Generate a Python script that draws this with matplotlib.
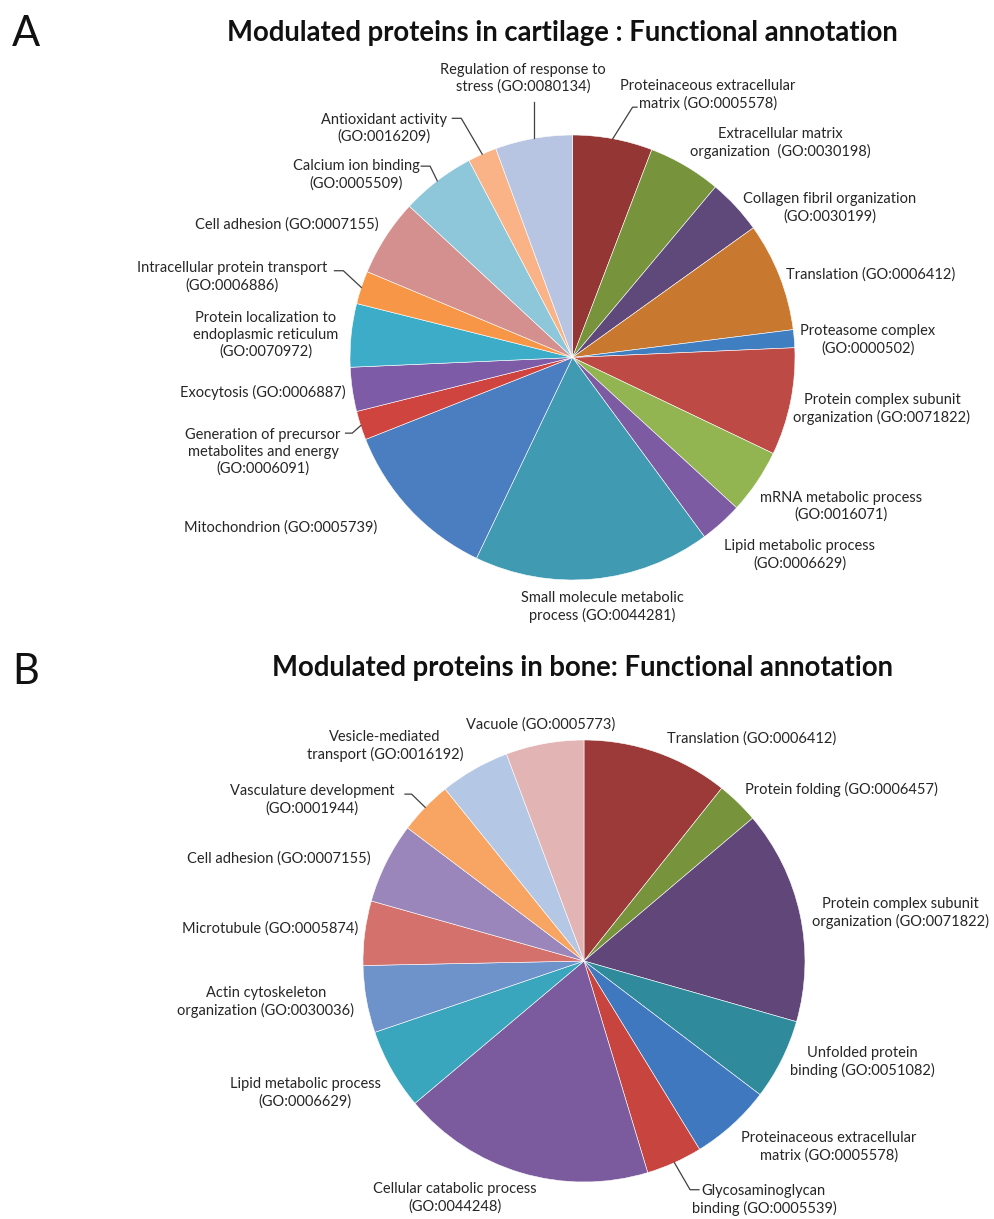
import numpy as np
import matplotlib
matplotlib.use('Agg')
import matplotlib.pyplot as plt

plt.rcParams['font.family'] = ['Lato', 'DejaVu Sans']

# cartilage (panel A), share of modulated proteins per GO term (%)
cart_labels = [
    'Proteinaceous extracellular\nmatrix (GO:0005578)',
    'Extracellular matrix\norganization  (GO:0030198)',
    'Collagen fibril organization\n(GO:0030199)',
    'Translation (GO:0006412)',
    'Proteasome complex\n(GO:0000502)',
    'Protein complex subunit\norganization (GO:0071822)',
    'mRNA metabolic process\n(GO:0016071)',
    'Lipid metabolic process\n(GO:0006629)',
    'Small molecule metabolic\nprocess (GO:0044281)',
    'Mitochondrion (GO:0005739)',
    'Generation of precursor\nmetabolites and energy\n(GO:0006091)',
    'Exocytosis (GO:0006887)',
    'Protein localization to\nendoplasmic reticulum\n(GO:0070972)',
    'Intracellular protein transport\n(GO:0006886)',
    'Cell adhesion (GO:0007155)',
    'Calcium ion binding\n(GO:0005509)',
    'Antioxidant activity\n(GO:0016209)',
    'Regulation of response to\nstress (GO:0080134)',
]
cart_values = [5.8, 5.3, 4.0, 7.9, 1.3, 7.8, 4.7, 3.1, 17.2, 11.9,
               2.1, 3.2, 4.6, 2.4, 5.6, 5.4, 2.1, 5.6]

# bone (panel B)
bone_labels = [
    'Translation (GO:0006412)',
    'Protein folding (GO:0006457)',
    'Protein complex subunit\norganization (GO:0071822)',
    'Unfolded protein\nbinding (GO:0051082)',
    'Proteinaceous extracellular\nmatrix (GO:0005578)',
    'Glycosaminoglycan\nbinding (GO:0005539)',
    'Cellular catabolic process\n(GO:0044248)',
    'Lipid metabolic process\n(GO:0006629)',
    'Actin cytoskeleton\norganization (GO:0030036)',
    'Microtubule (GO:0005874)',
    'Cell adhesion (GO:0007155)',
    'Vasculature development\n(GO:0001944)',
    'Vesicle-mediated\ntransport (GO:0016192)',
    'Vacuole (GO:0005773)',
]
bone_values = [10.7, 3.1, 15.6, 5.9, 5.9, 4.1, 18.5, 5.9, 4.9, 4.7,
               5.9, 3.9, 5.1, 5.7]

cart_colors = ['#943634', '#77933C', '#5F497A', '#C9782F', '#3F7EC0', '#BE4A46',
               '#92B451', '#7D5BA3', '#3F9AB2', '#4A7EC0', '#D0443F', '#7D5BA6',
               '#3CACC8', '#F79646', '#D4908E', '#8EC6DA', '#FAB386', '#B8C5E2']
bone_colors = ['#9B3A38', '#77933C', '#614779', '#2F8A9B', '#3F78BF', '#C8443E',
               '#7B5B9E', '#3AA6BD', '#6E93CB', '#D4716C', '#9A86BA', '#F8A462',
               '#B4C8E6', '#E2B4B3']

# label centres in pie-radius units
cart_pos = [(0.609, 1.180), (0.933, 0.966), (1.157, 0.672), (1.342, 0.375),
            (1.328, 0.079), (1.391, -0.231), (1.207, -0.670), (1.022, -0.888),
            (0.133, -1.121), (-1.310, -0.766), (-1.391, -0.425), (-1.391, -0.155),
            (-1.378, 0.101), (-1.530, 0.362), (-1.283, 0.596), (-0.973, 0.820),
            (-0.847, 1.031), (-0.222, 1.254)]
bone_pos = [(0.760, 1.005), (1.167, 0.778), (1.430, 0.217), (1.258, -0.457),
            (1.109, -0.842), (0.814, -1.081), (-0.584, -1.072), (-1.262, -0.597),
            (-1.439, -0.186), (-1.421, 0.149), (-1.380, 0.462), (-1.231, 0.729),
            (-0.900, 0.973), (-0.195, 1.068)]

# leader lines: slice index -> bend points after the slice edge
cart_leaders = {0: [(0.27, 1.125), (0.29, 1.125)],
                10: [(-0.99, -0.34), (-1.02, -0.34)],
                13: [(-1.03, 0.39), (-1.07, 0.39)],
                15: [(-0.64, 0.86), (-0.68, 0.86)],
                16: [(-0.50, 1.075), (-0.54, 1.075)],
                17: [(-0.182, 1.15)]}
bone_leaders = {5: [(0.48, -1.035), (0.52, -1.035)],
                11: [(-0.78, 0.755), (-0.81, 0.755)]}

W, H = 995, 1219
fig = plt.figure(figsize=(W / 100, H / 100), dpi=100)
txt_color = '#262626'


def draw_pie(cx, cy, r, values, colors, labels, pos, leaders):
    ax = fig.add_axes([(cx - r) / W, 1 - (cy + r) / H, 2 * r / W, 2 * r / H])
    wedges, _ = ax.pie(values, colors=colors, startangle=90, counterclock=False,
                       radius=1, wedgeprops=dict(edgecolor='white', linewidth=0.4))
    ax.set_xlim(-1, 1)
    ax.set_ylim(-1, 1)
    ax.set_aspect('equal')
    ax.axis('off')
    for i, lab in enumerate(labels):
        ax.text(pos[i][0], pos[i][1], lab, ha='center', va='center',
                multialignment='center', fontsize=10.5, color=txt_color,
                linespacing=1.25, clip_on=False)
    for i, pts in leaders.items():
        w = wedges[i]
        mid = np.deg2rad((w.theta1 + w.theta2) / 2)
        start = (np.cos(mid), np.sin(mid))
        if len(pts) == 1:
            pts = [(start[0], pts[0][1])]
        xs = [start[0]] + [p[0] for p in pts]
        ys = [start[1]] + [p[1] for p in pts]
        ax.plot(xs, ys, color='#404040', lw=0.9, clip_on=False)
    return ax


draw_pie(572.5, 357.5, 222.5, cart_values, cart_colors, cart_labels, cart_pos, cart_leaders)
draw_pie(584, 961, 221, bone_values, bone_colors, bone_labels, bone_pos, bone_leaders)

fig.text(562 / W, 1 - 33 / H, 'Modulated proteins in cartilage : Functional annotation',
         ha='center', va='center', fontsize=19.8, fontweight='bold', color='#111111')
fig.text(583 / W, 1 - 668 / H, 'Modulated proteins in bone: Functional annotation',
         ha='center', va='center', fontsize=19.8, fontweight='bold', color='#111111')
fig.text(12 / W, 1 - 34 / H, 'A', ha='left', va='center', fontsize=30, color='#111111')
fig.text(12 / W, 1 - 672 / H, 'B', ha='left', va='center', fontsize=30, color='#111111')

fig.savefig('out.png', dpi=100, facecolor='white')
